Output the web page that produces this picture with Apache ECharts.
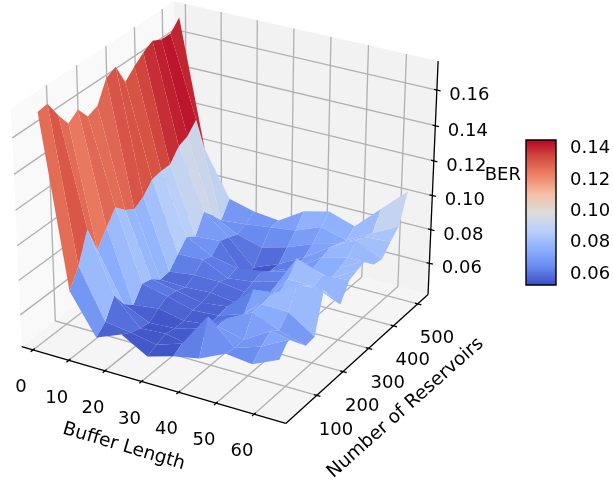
<!DOCTYPE html>
<html><head><meta charset="utf-8">
<style>html,body{margin:0;padding:0;background:#fff}#c{width:613px;height:483px}</style>
<script src="https://cdn.jsdelivr.net/npm/echarts@6/dist/echarts.min.js"></script>
</head><body><div id="c"></div>
<script>
// ---- data ----
const bufferLengths = [1, 8, 15, 22, 29, 36, 43, 50, 57, 64];
const reservoirCounts = [20, 52, 85, 117, 150, 182, 215, 247, 280, 312, 345, 377, 410, 442, 475, 507];
const berBuffer1  = [.1723,.1732,.1633,.1551,.1591,.1517,.1540,.1658,.1687,.1567,.1619,.1662,.1694,.1668,.1667,.1724];
const berBuffer8  = [.0758,.0863,.1034,.0873,.0963,.1040,.0984,.0951,.0985,.1046,.1056,.1057,.1125,.1146,.1205,.0996];
const berBuffer15 = [.0530,.0580,.0690,.0598,.0551,.0634,.0619,.0575,.0580,.0645,.0707,.0670,.0777,.0716,.0645,.0736];
const berBuffer22 = [.0590,.0560,.0540,.0530,.0570,.0600,.0590,.0570,.0600,.0650,.0630,.0680,.0660,.0640,.0660,.0697];
const berBuffer29 = [.0505,.0530,.0550,.0540,.0540,.0560,.0560,.0580,.0600,.0580,.0600,.0500,.0520,.0600,.0680,.0682];
const berBuffer36 = [.0550,.0580,.0520,.0580,.0560,.0570,.0580,.0560,.0580,.0600,.0620,.0580,.0580,.0640,.0700,.0776];
const berBuffer43 = [.0580,.0780,.0680,.0680,.0640,.0620,.0720,.0600,.0620,.0640,.0660,.0640,.0660,.0700,.0760,.0812];
const berBuffer50 = [.0650,.0639,.0642,.0758,.0761,.0772,.0740,.0780,.0859,.0780,.0720,.0740,.0760,.0740,.0720,.0764];
const berBuffer57 = [.0633,.0691,.0736,.0695,.0758,.0874,.0830,.0780,.0800,.0740,.0760,.0780,.0840,.0820,.0800,.0904];
const berBuffer64 = [.0702,.0772,.0710,.0650,.0657,.0883,.0800,.0715,.0812,.0830,.0847,.0780,.0770,.0830,.0880,.1043];
const berRows = [berBuffer1, berBuffer8, berBuffer15, berBuffer22, berBuffer29, berBuffer36, berBuffer43, berBuffer50, berBuffer57, berBuffer64];
const xTicks = [0, 10, 20, 30, 40, 50, 60];
const yTicks = [100, 200, 300, 400, 500];
const zTicks = [0.06, 0.08, 0.10, 0.12, 0.14, 0.16];
const colorbarTicks = [0.06, 0.08, 0.10, 0.12, 0.14];
const xTitle = 'Buffer Length', yTitle = 'Number of Reservoirs', zTitle = 'BER';

// ---- scene ----
const xLim = [-3.19, 68.26], yLim = [-14.4, 543.2], zLim = [0.0412, 0.1760];
const cVal = [0.0523, 0.145];
const viewX = [-0.0748, 0.1263], viewY = [-0.10206, 0.07539];
const dist = 10, elev = 30 * Math.PI / 180, azim = -60 * Math.PI / 180;
const W = [Math.cos(elev) * Math.cos(azim), Math.cos(elev) * Math.sin(azim), Math.sin(elev)];
const U = [-W[1], W[0], 0].map(v => v / Math.hypot(W[0], W[1]));
const V = [W[1]*U[2]-W[2]*U[1], W[2]*U[0]-W[0]*U[2], W[0]*U[1]-W[1]*U[0]];
const dot = (a, b) => a[0]*b[0] + a[1]*b[1] + a[2]*b[2];
const unit = p => [(p[0]-xLim[0])/(xLim[1]-xLim[0])-.5, (p[1]-yLim[0])/(yLim[1]-yLim[0])-.5, (p[2]-zLim[0])/(zLim[1]-zLim[0])-.5];
const depth = p => dist - dot(W, unit(p));
const project = p => { const q = unit(p), d = dist - dot(W, q); return [dot(U, q)/d, dot(V, q)/d]; };

const coolwarmStops = [[0,'#3b4cc0'],[.125,'#6788ee'],[.25,'#8db0fe'],[.375,'#b8cff8'],[.5,'#dddcdc'],[.625,'#f6bfa6'],[.75,'#ee8468'],[.875,'#d44e41'],[1,'#b40426']];
const rgb = h => [1,3,5].map(k => parseInt(h.substr(k,2),16));
function coolwarm(t) {
  t = Math.max(0, Math.min(1, t));
  for (let k = 1; k < coolwarmStops.length; k++) {
    if (t <= coolwarmStops[k][0]) {
      const a = coolwarmStops[k-1], b = coolwarmStops[k], f = (t-a[0])/(b[0]-a[0]);
      const ca = rgb(a[1]), cb = rgb(b[1]);
      return 'rgb(' + ca.map((v,n) => Math.round(v+(cb[n]-v)*f)).join(',') + ')';
    }
  }
  return coolwarmStops[coolwarmStops.length-1][1];
}

// surface cells, far ones first
const cells = [];
for (let i = 0; i < bufferLengths.length-1; i++) for (let j = 0; j < reservoirCounts.length-1; j++) {
  const corners = [[i,j],[i+1,j],[i+1,j+1],[i,j+1]].map(c => [bufferLengths[c[0]], reservoirCounts[c[1]], berRows[c[0]][c[1]]]);
  const mean = corners.reduce((s,c) => s+c[2], 0)/4;
  const far = corners.reduce((s,c) => s+depth(c), 0)/4;
  cells.push({corners, mean, far});
}
cells.sort((a,b) => b.far-a.far);

// box: panes, gridlines, axes, ticks
const [x0,x1] = xLim, [y0,y1] = yLim, [z0,z1] = zLim;
const panes = [
  {pts:[[x0,y0,z0],[x0,y1,z0],[x0,y1,z1],[x0,y0,z1]], fill:'#f9f9f9'},
  {pts:[[x0,y1,z0],[x1,y1,z0],[x1,y1,z1],[x0,y1,z1]], fill:'#f2f2f2'},
  {pts:[[x0,y0,z0],[x1,y0,z0],[x1,y1,z0],[x0,y1,z0]], fill:'#f5f5f5'}
];
const gridPaths = [];
xTicks.forEach(t => gridPaths.push([[t,y0,z0],[t,y1,z0],[t,y1,z1]]));
yTicks.forEach(t => gridPaths.push([[x0,t,z1],[x0,t,z0],[x1,t,z0]]));
zTicks.forEach(t => gridPaths.push([[x0,y0,t],[x0,y1,t],[x1,y1,t]]));
const axisPaths = [[[x0,y0,z0],[x1,y0,z0]], [[x1,y0,z0],[x1,y1,z0]], [[x1,y1,z0],[x1,y1,z1]]];
const dy = (y1-y0)/12.5, dx = (x1-x0)/12.5;
xTicks.forEach(t => axisPaths.push([[t,y0-.17*dy,z0],[t,y0+.13*dy,z0]]));
yTicks.forEach(t => axisPaths.push([[x1-.13*dx,t,z0],[x1+.17*dx,t,z0]]));
zTicks.forEach(t => axisPaths.push([[x1-.13*dx,y1,t],[x1+.17*dx,y1,t]]));

const tickFont = '18px "DejaVu Sans"', titleFont = '18.6px "DejaVu Sans"';
const labels = [];
xTicks.forEach(t => labels.push({at:[t,y0,z0], ox:-12, oy:37.5, text:String(t)}));
yTicks.forEach(t => labels.push({at:[x1,t,z0], ox:19.2, oy:34.5, text:String(t)}));
zTicks.forEach(t => labels.push({at:[x1,y1,t], ox:32.5, oy:5.2, text:t.toFixed(2)}));
labels.push({at:[32,y0,z0], ox:-25, oy:63, text:xTitle, rot:-16.5, font:titleFont});
labels.push({at:[x1,280,z0], ox:42, oy:55, text:yTitle, rot:41.5, font:titleFont});
labels.push({at:[x1,y1,0.12], ox:69, oy:14, text:zTitle, font:tickFont});

const place = (api, p) => api.coord(project(p));
const polyEl = (api, pts, fill) => ({type:'polygon', silent:true, shape:{points:pts.map(p => place(api,p))}, style:{fill, stroke:null}});
const lineEl = (api, pts, stroke, lineWidth) => ({type:'polyline', silent:true, shape:{points:pts.map(p => place(api,p))}, style:{stroke, lineWidth, fill:null}});

const gridSpace = {left:0, top:0, width:613, height:483};
const barSpace = {left:526, top:140, width:30, height:145, show:false};

const option = {
  animation:false, backgroundColor:'#fff',
  grid:[gridSpace, barSpace],
  xAxis:[
    {gridIndex:0, type:'value', min:viewX[0], max:viewX[1], show:false},
    {gridIndex:1, type:'value', min:0, max:1, show:false}
  ],
  yAxis:[
    {gridIndex:0, type:'value', min:viewY[0], max:viewY[1], show:false},
    {gridIndex:1, type:'value', min:cVal[0], max:cVal[1], position:'right',
      axisLine:{show:false}, splitLine:{show:false},
      axisTick:{show:true, length:7, customValues:colorbarTicks, lineStyle:{color:'#000', width:1.3}},
      axisLabel:{show:false}}
  ],
  series:[
    {type:'custom', name:'panes', coordinateSystem:'cartesian2d', xAxisIndex:0, yAxisIndex:0, silent:true, clip:false, z:1,
      data:panes.map((_,k) => [k]), encode:{x:[],y:[]},
      renderItem:(p,api) => polyEl(api, panes[p.dataIndex].pts, panes[p.dataIndex].fill)},
    {type:'custom', name:'grid', coordinateSystem:'cartesian2d', xAxisIndex:0, yAxisIndex:0, silent:true, clip:false, z:2,
      data:gridPaths.map((_,k) => [k]), encode:{x:[],y:[]},
      renderItem:(p,api) => lineEl(api, gridPaths[p.dataIndex], '#b0b0b0', 1.3)},
    {type:'custom', name:'axes', coordinateSystem:'cartesian2d', xAxisIndex:0, yAxisIndex:0, silent:true, clip:false, z:3,
      data:axisPaths.map((_,k) => [k]), encode:{x:[],y:[]},
      renderItem:(p,api) => lineEl(api, axisPaths[p.dataIndex], '#000', 1.3)},
    {type:'custom', name:'surface', coordinateSystem:'cartesian2d', xAxisIndex:0, yAxisIndex:0, silent:true, clip:false, z:4,
      data:cells.map((_,k) => [k]), encode:{x:[],y:[]},
      renderItem:(p,api) => { const c = cells[p.dataIndex]; return polyEl(api, c.corners, coolwarm((c.mean-cVal[0])/(cVal[1]-cVal[0]))); }},
    {type:'custom', name:'labels', coordinateSystem:'cartesian2d', xAxisIndex:0, yAxisIndex:0, silent:true, clip:false, z:5,
      data:labels.map((_,k) => [k]), encode:{x:[],y:[]},
      renderItem:(p,api) => { const l = labels[p.dataIndex], q = place(api,l.at);
        return {type:'text', silent:true, x:q[0]+l.ox, y:q[1]+l.oy, rotation:(l.rot||0)*Math.PI/180,
          style:{text:l.text, font:l.font||tickFont, fill:'#000', align:'center', verticalAlign:'middle'}}; }},
    {type:'custom', name:'colorbar', coordinateSystem:'cartesian2d', xAxisIndex:1, yAxisIndex:1, silent:true, clip:false, z:1,
      data:[[0]], encode:{x:[],y:[]},
      renderItem:(p,api) => { const a = api.coord([0,cVal[1]]), b = api.coord([1,cVal[0]]);
        return {type:'rect', silent:true, shape:{x:a[0],y:a[1],width:b[0]-a[0],height:b[1]-a[1]},
          style:{stroke:'#000', lineWidth:1.4, fill:new echarts.graphic.LinearGradient(0,1,0,0, coolwarmStops.map(s => ({offset:s[0], color:s[1]})))}}; }},
    {type:'custom', name:'colorbarLabels', coordinateSystem:'cartesian2d', xAxisIndex:1, yAxisIndex:1, silent:true, clip:false, z:5,
      data:colorbarTicks.map((_,k) => [k]), encode:{x:[],y:[]},
      renderItem:(p,api) => { const v = colorbarTicks[p.dataIndex], q = api.coord([1,v]);
        return {type:'text', silent:true, x:q[0]+14, y:q[1]+1,
          style:{text:v.toFixed(2), font:tickFont, fill:'#000', align:'left', verticalAlign:'middle'}}; }}
  ]
};
const chart = echarts.init(document.getElementById('c'), null, {renderer:'canvas', width:613, height:483});
chart.setOption(option);
</script></body></html>
